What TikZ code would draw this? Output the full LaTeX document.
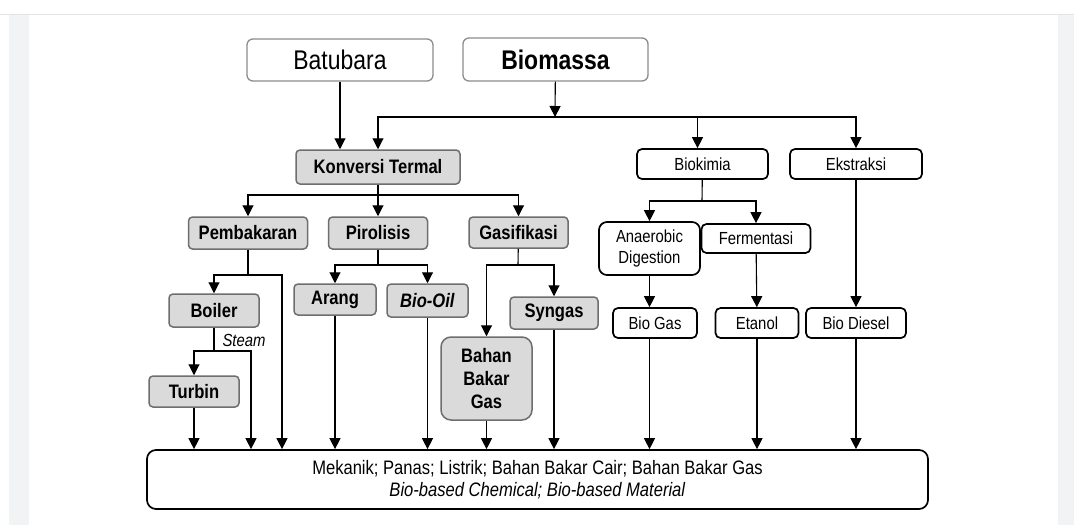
\documentclass[tikz,border=0pt]{standalone}
\usepackage{fontspec}
\setmainfont{Liberation Sans}[FakeStretch=0.85]
\usetikzlibrary{arrows.meta}
\definecolor{boxgray}{HTML}{DADADA}
\definecolor{edgegray}{HTML}{6E6E6E}
\definecolor{topgray}{HTML}{8C8C8C}
\definecolor{panel}{HTML}{F2F3F5}
\definecolor{rulegray}{HTML}{E4E4E4}
\newcommand{\fs}[2]{\fontsize{#1}{#2}\selectfont}

\begin{document}
\begin{tikzpicture}[x=1pt,y=-1pt,>={Triangle[width=11pt,length=11pt]},
  topbox/.style={draw=topgray,line width=1.3pt,rounded corners=6pt,inner sep=0pt},
  procbox/.style={draw=edgegray,fill=boxgray,line width=1.5pt,rounded corners=4pt,inner sep=0pt,font=\fs{19.5}{23}\bfseries},
  outbox/.style={draw=black,line width=1.7pt,rounded corners=5pt,inner sep=0pt,font=\fs{17.5}{21}},
  link/.style={line width=1.1pt}]
\useasboundingbox (0,0) rectangle (1074,525);
% page background
\fill[white] (0,0) rectangle (1074,525);
\fill[panel] (9,14) rectangle (29,525);
\fill[panel] (1058,14) rectangle (1074,525);
\draw[rulegray,line width=1pt] (0,14) -- (1074,14);

% sources
\node[topbox,minimum width=186pt,minimum height=42pt,font=\fs{27}{30}] (batu) at (340,60) {Batubara};
\node[topbox,minimum width=185pt,minimum height=43pt,font=\fs{27}{30}\bfseries] (bio) at (555.5,59.5) {Biomassa};

% konversi termal branch
\node[procbox,minimum width=164pt,minimum height=34pt] (konv) at (378,167) {Konversi Termal};
\node[procbox,minimum width=119pt,minimum height=32pt] (pemb) at (248,233) {Pembakaran};
\node[procbox,minimum width=99pt,minimum height=32pt] (piro) at (378,233) {Pirolisis};
\node[procbox,minimum width=99pt,minimum height=31pt] (gasi) at (518.5,232.5) {Gasifikasi};
\node[procbox,minimum width=90pt,minimum height=33pt] (boil) at (214,310.5) {Boiler};
\node[procbox,minimum width=90pt,minimum height=31pt] (turb) at (194,391.5) {Turbin};
\node[procbox,minimum width=82pt,minimum height=31pt] (arang) at (335,299.5) {Arang};
\node[procbox,minimum width=81pt,minimum height=33pt] (oil) at (427.5,300.5) {\textit{Bio-Oil}};
\node[procbox,minimum width=88pt,minimum height=32pt] (syn) at (554,313) {Syngas};
\node[procbox,rounded corners=10pt,minimum width=91pt,minimum height=83pt,align=center] (bbg) at (486.5,378.5) {Bahan\\Bakar\\Gas};

% biokimia and ekstraksi
\node[outbox,minimum width=131pt,minimum height=30pt] (biok) at (702.5,164) {Biokimia};
\node[outbox,minimum width=132pt,minimum height=30pt] (ekst) at (856,164) {Ekstraksi};
\node[outbox,rounded corners=8pt,minimum width=101pt,minimum height=53pt,align=center] (anae) at (649.5,248.5) {Anaerobic\\Digestion};
\node[outbox,minimum width=109pt,minimum height=29pt] (ferm) at (756,238.5) {Fermentasi};
\node[outbox,minimum width=84pt,minimum height=30pt] (gas) at (655,323) {Bio Gas};
\node[outbox,minimum width=83pt,minimum height=30pt] (etan) at (757,323) {Etanol};
\node[outbox,minimum width=100pt,minimum height=30pt] (dies) at (856,323) {Bio Diesel};

% hasil
\node[outbox,rounded corners=9pt,minimum width=781pt,minimum height=59pt,align=center,font=\fs{19.5}{22}] (hasil) at (537.5,479.5)
  {Mekanik; Panas; Listrik; Bahan Bakar Cair; Bahan Bakar Gas\\\textit{Bio-based Chemical; Bio-based Material}};

% junctions
\coordinate (bj) at (555,117);
\coordinate (kj) at (378,195);
\coordinate (pj) at (248,275);
\coordinate (pr) at (282,275);
\coordinate (sj) at (214,351);
\coordinate (sr) at (251,351);
\coordinate (rj) at (378,265);
\coordinate (gj) at (518,265);
\coordinate (bk) at (702,201);

% top
\draw[->,link] (batu) -- (batu |- konv.north);
\draw[->,link] (bio) -- (bj);
\draw[->,link] (bj) -| (konv.north);
\draw[->,link] (bj) -| ([xshift=-5pt]biok.north);
\draw[->,link] (bj) -| (ekst.north);

% termal
\draw[->,link] (konv) -- (piro);
\draw[->,link] (kj) -| (pemb.north);
\draw[->,link] (kj) -| (gasi.north);

\draw[link] (pemb) -- (pj);
\draw[->,link] (pj) -| (boil.north);
\draw[->,link] (pj) -- (pr) -- (pr |- hasil.north);

\draw[link] (boil) -- (sj);
\draw[->,link] (sj) -| (turb.north);
\draw[->,link] (sj) -- (sr) -- (sr |- hasil.north);
\node[font=\fs{17.5}{21}\itshape] (steam) at (244,340) {Steam};
\draw[->,link] (turb) -- (turb |- hasil.north);

\draw[link] (piro) -- (rj);
\draw[->,link] (rj) -| (arang.north);
\draw[->,link] (rj) -| (oil.north);
\draw[->,link] (arang) -- (arang |- hasil.north);
\draw[->,link] (oil) -- (oil |- hasil.north);

\draw[link] (gasi) -- (gj);
\draw[->,link] (gj) -| (bbg.north);
\draw[->,link] (gj) -| (syn.north);
\draw[->,link] (bbg) -- (bbg |- hasil.north);
\draw[->,link] (syn) -- (syn |- hasil.north);

% biokimia
\draw[link] (biok) -- (bk);
\draw[->,link] (bk) -| (anae.north);
\draw[->,link] (bk) -| (ferm.north);
\draw[->,link] (anae) -- (anae |- gas.north);
\draw[->,link] (ferm) -- (etan);
\draw[->,link] (gas.south -| anae) -- (anae |- hasil.north);
\draw[->,link] (etan) -- (etan |- hasil.north);

% ekstraksi
\draw[->,link] (ekst) -- (dies);
\draw[->,link] (dies) -- (dies |- hasil.north);
\end{tikzpicture}
\end{document}
